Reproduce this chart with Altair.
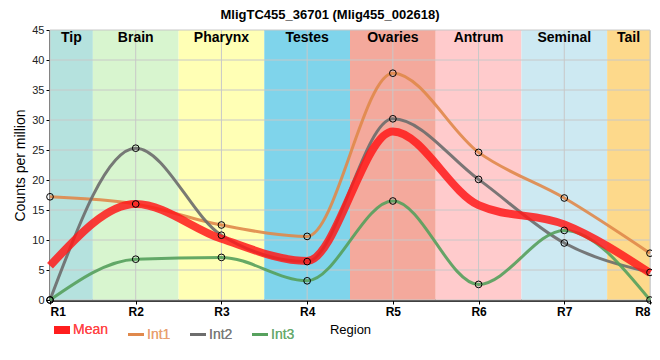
import json
import altair as alt
import pandas as pd

# ---- data ----
regions = ["R1", "R2", "R3", "R4", "R5", "R6", "R7", "R8"]
positions = [1, 2, 3, 4, 5, 6, 7, 8]
mean_vals = [5.7, 16.0, 10.2, 6.5, 28.1, 15.8, 12.6, 4.5]
int1_vals = [17.2, 16.0, 12.5, 10.6, 37.8, 24.6, 17.0, 7.8]
int2_vals = [0.0, 25.3, 10.8, 6.4, 30.2, 20.1, 9.5, 4.6]
int3_vals = [0.0, 6.8, 7.1, 3.2, 16.5, 2.6, 11.6, 0.0]

series_names = ["Mean", "Int1", "Int2", "Int3"]
series_colors = ["#ff1a1a", "#e0884a", "#6b6b6b", "#55a05c"]
label_colors = ["#ff4545", "#e9a070", "#7a7a7a", "#68aa6e"]

band_names = ["Tip", "Brain", "Pharynx", "Testes", "Ovaries", "Antrum", "Seminal", "Tail"]
band_start = [1, 1.5, 2.5, 3.5, 4.5, 5.5, 6.5, 7.5]
band_end = [1.5, 2.5, 3.5, 4.5, 5.5, 6.5, 7.5, 8]
band_colors = ["#b5e2de", "#d8f5cf", "#ffffb5", "#7fd4eb", "#f4a99c", "#ffcbcc", "#cde9f2", "#fdd98b"]

y_ticks = [0, 5, 10, 15, 20, 25, 30, 35, 40, 45]

FONT = "Liberation Sans"

# ---- tables ----
rows = []
for name, vals in zip(series_names, [mean_vals, int1_vals, int2_vals, int3_vals]):
    for r, p, v in zip(regions, positions, vals):
        rows.append({"region": r, "pos": p, "series": name, "value": v})
df = pd.DataFrame(rows)

bands = pd.DataFrame({"name": band_names, "start": band_start, "end": band_end, "color": band_colors})
bands["mid"] = (bands["start"] + bands["end"]) / 2

xgrid = pd.DataFrame({"pos": positions})
ygrid = pd.DataFrame({"value": y_ticks})

x_scale = alt.Scale(domain=[positions[0], positions[-1]], nice=False, zero=False)
y_scale = alt.Scale(domain=[y_ticks[0], y_ticks[-1]], nice=False)

label_expr = json.dumps(regions) + "[datum.value - 1]"

x_axis = alt.Axis(
    values=positions, labelExpr=label_expr, title="Region", grid=False, labelOverlap=False,
    labelFont=FONT, labelFontSize=12, labelFontWeight="bold", labelColor="black",
    titleFont=FONT, titleFontSize=13, titleFontWeight="normal", titleColor="black",
    titleX=300, titleY=29, titleBaseline="middle", titleAnchor="middle",
    domainColor="black", domainWidth=2.5, tickColor="black", tickSize=4, labelPadding=2,
)
y_axis = alt.Axis(
    values=y_ticks, title="Counts per million", grid=False, labelOverlap=False,
    labelFont=FONT, labelFontSize=11, labelColor="#222222",
    titleFont=FONT, titleFontSize=14, titleFontWeight="normal", titleColor="black",
    titleX=-30, titleY=135, titleAngle=-90, titleBaseline="middle", titleAnchor="middle",
    domainColor="black", domainWidth=2.5, tickColor="black", tickSize=4, labelPadding=2,
)

X = lambda f: alt.X(f, scale=x_scale, axis=x_axis)
Y = lambda f: alt.Y(f, scale=y_scale, axis=y_axis)

color_expr = "indexof(" + json.dumps(series_names) + ", datum.label) >= 0 ? " + \
    json.dumps(label_colors) + "[indexof(" + json.dumps(series_names) + ", datum.label)] : 'black'"
sw_expr = "datum.label == 'Mean' ? 8 : 3"

legend = alt.Legend(
    orient="none", legendX=5, legendY=293, direction="horizontal", title=None,
    symbolType="stroke", symbolSize=256, symbolStrokeWidth={"expr": sw_expr},
    labelColor={"expr": color_expr}, labelFont=FONT, labelFontSize=14,
    labelOffset=4, columnPadding=13,
)
color_enc = alt.Color("series:N", scale=alt.Scale(domain=series_names, range=series_colors), legend=legend)

band_layer = alt.Chart(bands).mark_rect().encode(
    x=X("start:Q"),
    x2="end:Q",
    color=alt.Color("color:N", scale=None, legend=None),
)
band_text = alt.Chart(bands).mark_text(font=FONT, fontSize=14, fontWeight="bold", baseline="middle", color="black").encode(
    x=X("mid:Q"),
    y=alt.value(8),
    text="name:N",
)
vgrid = alt.Chart(xgrid).mark_rule(color="#c8c8c8", strokeWidth=1).encode(x=X("pos:Q"))
hgrid = alt.Chart(ygrid).mark_rule(color="#c8c8c8", strokeWidth=1).encode(y=Y("value:Q"))

int_lines = alt.Chart(df).transform_filter("datum.series != 'Mean'").mark_line(
    interpolate="monotone", strokeWidth=3, opacity=0.9
).encode(
    x=X("pos:Q"),
    y=Y("value:Q"),
    color=color_enc,
    detail="series:N",
)
mean_line = alt.Chart(df).transform_filter("datum.series == 'Mean'").mark_line(
    interpolate="monotone", strokeWidth=8, opacity=0.85
).encode(
    x=X("pos:Q"),
    y=Y("value:Q"),
    color=color_enc,
)
points = alt.Chart(df).transform_filter("datum.series != 'Mean'").mark_point(
    shape="circle", size=45, filled=False, color="black", strokeWidth=1, opacity=1
).encode(
    x=X("pos:Q"),
    y=Y("value:Q"),
)

chart = alt.layer(band_layer, vgrid, hgrid, band_text, int_lines, mean_line, points).resolve_scale(
    color="independent"
).properties(
    width=600, height=270,
    autosize=alt.AutoSizeParams(type="none"),
    padding={"left": 42, "top": 22, "right": 2, "bottom": 52},
    title=alt.TitleParams(
        "MligTC455_36701 (Mlig455_002618)", font=FONT, fontSize=13, fontWeight="bold",
        anchor="middle", dx=-20, dy=2, color="black",
    ),
).configure_view(stroke="black", strokeWidth=1.5).configure(background="white")

chart.save("out.html", embed_options={"renderer": "svg", "actions": False})
